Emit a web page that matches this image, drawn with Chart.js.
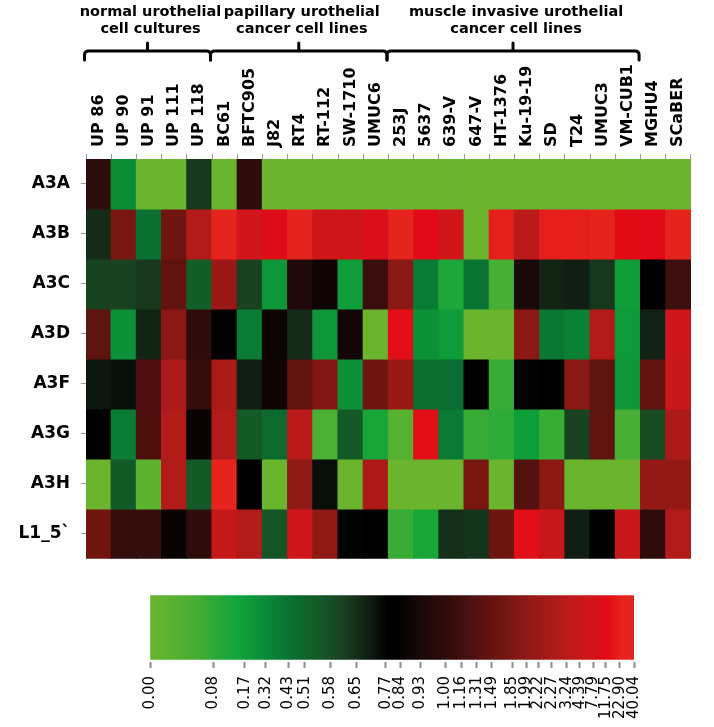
<!DOCTYPE html>
<html>
<head>
<meta charset="utf-8">
<script src="https://cdn.jsdelivr.net/npm/chart.js@4.4.1/dist/chart.umd.min.js"></script>
<style>
body { margin: 0; background: #fff; width: 714px; height: 727px; position: relative; overflow: hidden; }
#heat { position: absolute; left: 0; top: 0; }
#key { position: absolute; left: 0; top: 580px; }
</style>
</head>
<body>
<canvas id="heat" width="714" height="580"></canvas>
<canvas id="key" width="714" height="147"></canvas>
<script>
var rowLabels = ['A3A', 'A3B', 'A3C', 'A3D', 'A3F', 'A3G', 'A3H', 'L1_5`'];
var cellLines = ['UP 86', 'UP 90', 'UP 91', 'UP 111', 'UP 118', 'BC61', 'BFTC905', 'J82', 'RT4', 'RT-112',
	'SW-1710', 'UMUC6', '253J', '5637', '639-V', '647-V', 'HT-1376', 'Ku-19-19', 'SD', 'T24', 'UMUC3',
	'VM-CUB1', 'MGHU4', 'SCaBER'];

var groupTitles = [['normal urothelial', 'cell cultures'], ['papillary urothelial', 'cancer cell lines'], ['muscle invasive urothelial', 'cancer cell lines']];
var groupFirst = [0, 5, 12];
var groupLast = [4, 11, 21];

// relative expression per row, one value per cell line
var a3a = [1.00, 0.30, 0, 0, 0.63, 0, 1.00, 0, 0, 0, 0, 0, 0, 0, 0, 0, 0, 0, 0, 0, 0, 0, 0, 0];
var a3b = [0.66, 1.80, 0.44, 1.68, 2.80, 40.0, 7.50, 11.0, 25.0, 6.50, 6.50, 10.0, 30.0, 12.0, 7.00, 0, 22.0, 3.24, 22.0, 22.0, 25.0, 11.75, 12.0, 40.0];
var a3c = [0.61, 0.61, 0.63, 1.45, 0.54, 2.20, 0.61, 0.22, 0.95, 0.88, 0.18, 1.10, 1.95, 0.39, 0.12, 0.42, 0.055, 0.93, 0.68, 0.70, 0.63, 0.18, 0.80, 1.13];
var a3d = [1.40, 0.27, 0.68, 1.97, 1.00, 0.80, 0.39, 0.88, 0.66, 0.22, 0.90, 0, 15.0, 0.27, 0.20, 0, 0, 1.97, 0.41, 0.36, 2.70, 0.20, 0.69, 6.20];
var a3f = [0.72, 0.74, 1.27, 2.35, 1.05, 2.35, 0.70, 0.88, 1.45, 1.87, 0.27, 1.68, 2.20, 0.46, 0.46, 0.80, 0.07, 0.77, 0.80, 1.95, 1.40, 0.22, 1.45, 4.80];
var a3g = [0.80, 0.39, 1.27, 2.80, 0.86, 2.80, 0.55, 0.48, 3.20, 0.05, 0.55, 0.13, 0.03, 15.0, 0.39, 0.07, 0.08, 0.17, 0.07, 0.61, 1.45, 0.055, 0.59, 2.35];
var a3h = [0, 0.55, 0.02, 2.80, 0.55, 40.0, 0.80, 0, 2.00, 0.74, 0, 2.35, 0, 0, 0, 1.80, 0, 1.30, 1.97, 0, 0, 0, 2.10, 2.10];
var l1 = [1.68, 1.05, 1.05, 0.86, 1.00, 4.50, 2.80, 0.56, 6.50, 2.00, 0.77, 0.80, 0.07, 0.13, 0.65, 0.64, 1.60, 15.0, 4.80, 0.70, 0.80, 4.80, 1.00, 2.80];
var rows = [a3a, a3b, a3c, a3d, a3f, a3g, a3h, l1];

// colour key: break values and where each sits along the key (0..1)
var keyValues = [0.00, 0.08, 0.17, 0.32, 0.43, 0.51, 0.58, 0.65, 0.77, 0.84, 0.93, 1.00, 1.16, 1.31, 1.49, 1.85, 1.99, 2.22, 2.27, 3.24, 4.39, 7.79, 11.75, 22.90, 40.04];
var keyQuantile = [0, 0.131, 0.196, 0.239, 0.286, 0.320, 0.372, 0.426, 0.487, 0.517, 0.559, 0.610, 0.643, 0.675, 0.706, 0.749, 0.777, 0.802, 0.830, 0.861, 0.888, 0.916, 0.942, 0.971, 1];

var stops = [
	[0, '#6ab42e'], [0.09, '#48ae34'], [0.18, '#10a53a'], [0.24, '#0a8a38'], [0.29, '#0a7032'],
	[0.35, '#145a28'], [0.40, '#1a3f20'], [0.455, '#0f1c12'], [0.49, '#000000'], [0.515, '#030101'],
	[0.56, '#1c0808'], [0.61, '#2e0c0c'], [0.65, '#451010'], [0.68, '#571210'], [0.723, '#6e1510'],
	[0.764, '#871814'], [0.816, '#a31a18'], [0.857, '#b81a1a'], [0.91, '#d0161a'], [0.944, '#e20a16'],
	[0.975, '#e6241e'], [1, '#e6241e']
];

function rankOf(v) {
	if (v <= keyValues[0]) return 0;
	for (var i = 1; i < keyValues.length; i++) {
		if (v <= keyValues[i]) {
			var f = (v - keyValues[i - 1]) / (keyValues[i] - keyValues[i - 1]);
			return keyQuantile[i - 1] + f * (keyQuantile[i] - keyQuantile[i - 1]);
		}
	}
	return 1;
}

function hex(c) { return [parseInt(c.substr(1, 2), 16), parseInt(c.substr(3, 2), 16), parseInt(c.substr(5, 2), 16)]; }

function colorAt(t) {
	for (var i = 1; i < stops.length; i++) {
		if (t <= stops[i][0]) {
			var a = hex(stops[i - 1][1]), b = hex(stops[i][1]);
			var f = (t - stops[i - 1][0]) / (stops[i][0] - stops[i - 1][0]);
			return 'rgb(' + a.map(function(x, k) { return Math.round(x + f * (b[k] - x)); }).join(',') + ')';
		}
	}
	return stops[stops.length - 1][1];
}

var font = 'DejaVu Sans';

var brackets = {
	id: 'brackets',
	afterDraw: function(chart) {
		var c = chart.ctx, x = chart.scales.x;
		var w = x.getPixelForValue(1) - x.getPixelForValue(0);
		c.save();
		c.strokeStyle = '#000';
		c.fillStyle = '#000';
		c.lineWidth = 3;
		c.lineCap = 'round';
		c.lineJoin = 'round';
		c.font = 'bold 14.5px ' + font;
		c.textAlign = 'center';
		for (var i = 0; i < groupTitles.length; i++) {
			var l = x.getPixelForValue(groupFirst[i]) - w / 2 - 2;
			var r = x.getPixelForValue(groupLast[i]) + w / 2 - 1;
			var m = (l + r) / 2;
			c.beginPath();
			c.moveTo(l + 0.5, 60);
			c.lineTo(l + 0.5, 55);
			c.quadraticCurveTo(l + 0.5, 51, l + 4.5, 51);
			c.lineTo(r - 4.5, 51);
			c.quadraticCurveTo(r - 0.5, 51, r - 0.5, 55);
			c.lineTo(r - 0.5, 60);
			c.moveTo(m, 51);
			c.lineTo(m, 43);
			c.stroke();
			c.fillText(groupTitles[i][0], m + 3, 16);
			c.fillText(groupTitles[i][1], m + 3, 33);
		}
		c.restore();
	}
};

new Chart(document.getElementById('heat').getContext('2d'), {
	type: 'bar',
	data: {
		labels: cellLines,
		datasets: rows.map(function(vals, r) {
			return {
				label: rowLabels[r],
				data: cellLines.map(function() { return 1; }),
				backgroundColor: vals.map(function(v) { return colorAt(rankOf(v)); }),
				borderWidth: 0,
				inflateAmount: 0.6,
				barPercentage: 1,
				categoryPercentage: 1
			};
		})
	},
	options: {
		responsive: false,
		animation: false,
		layout: { padding: { left: 0, right: 23, top: 0, bottom: 16 } },
		plugins: { legend: { display: false }, tooltip: { enabled: false } },
		scales: {
			x: {
				position: 'top',
				stacked: true,
				grid: { drawOnChartArea: false, tickLength: 5, tickColor: '#9a9a9a' },
				border: { display: false },
				ticks: {
					color: '#000',
					font: { family: font, size: 16, weight: 'bold' },
					minRotation: 90, maxRotation: 90, autoSkip: false, padding: 7,
					labelOffset: 19
				},
				afterFit: function(s) { s.height = 159; }
			},
			y: {
				type: 'linear',
				stacked: true,
				min: 0, max: 8,
				reverse: true,
				grid: { drawOnChartArea: false, tickLength: 5, tickColor: '#9a9a9a' },
				border: { display: false },
				afterBuildTicks: function(s) { s.ticks = rowLabels.map(function(_, i) { return { value: i + 0.5 }; }); },
				ticks: {
					color: '#000',
					font: { family: font, size: 17, weight: 'bold' },
					padding: 11,
					callback: function(v, i) { return rowLabels[i]; }
				},
				afterFit: function(s) { s.width = 86; }
			}
		}
	},
	plugins: [brackets]
});

new Chart(document.getElementById('key').getContext('2d'), {
	type: 'bar',
	data: {
		labels: [''],
		datasets: [{
			data: [[0, 1]],
			barThickness: 64,
			borderWidth: 0,
			backgroundColor: function(ctx) {
				var area = ctx.chart.chartArea;
				if (!area) return null;
				var g = ctx.chart.ctx.createLinearGradient(area.left, 0, area.right, 0);
				stops.forEach(function(s) { g.addColorStop(s[0], s[1]); });
				return g;
			}
		}]
	},
	options: {
		indexAxis: 'y',
		responsive: false,
		animation: false,
		layout: { padding: { left: 150, right: 80, top: 13, bottom: 0 } },
		plugins: { legend: { display: false }, tooltip: { enabled: false } },
		scales: {
			y: { display: false },
			x: {
				type: 'linear',
				min: 0, max: 1,
				grid: { drawOnChartArea: false, tickLength: 6, tickWidth: 2, tickColor: '#8a8a8a' },
				border: { display: false },
				afterBuildTicks: function(s) { s.ticks = keyQuantile.map(function(q) { return { value: q }; }); },
				ticks: {
					color: '#000',
					font: { family: font, size: 15 },
					minRotation: 90, maxRotation: 90, autoSkip: false, padding: 8,
					callback: function(v, i) { return keyValues[i].toFixed(2); }
				},
				afterFit: function(s) { s.height = 65; }
			}
		}
	}
});
</script>
</body>
</html>
